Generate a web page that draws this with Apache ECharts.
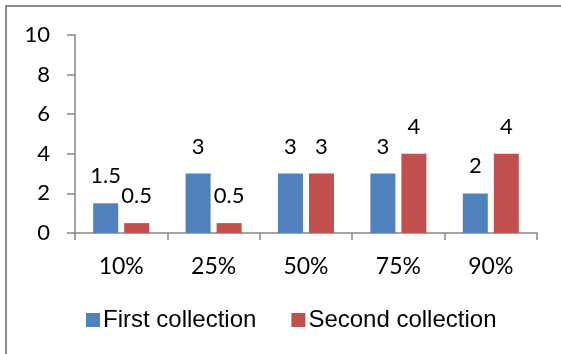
<!DOCTYPE html>
<html>
<head>
<meta charset="utf-8">
<script src="https://cdn.jsdelivr.net/npm/echarts@6/dist/echarts.min.js"></script>
<style>
  html, body { margin: 0; padding: 0; background: #fff; }
  #chart { width: 561px; height: 354px; }
</style>
</head>
<body>
<div id="chart"></div>
<script>
// Percentile groups on the x axis
const categories = ['10%', '25%', '50%', '75%', '90%'];
// Counts per collection
const firstCollection = [1.5, 3, 3, 3, 2];
const secondCollection = [0.5, 0.5, 3, 4, 4];
// Y axis range
const yMin = 0;
const yMax = 10;
const yStep = 2;

const numFont = 'Lato, "Open Sans", sans-serif';
const axisGrey = '#868686';

const chart = echarts.init(document.getElementById('chart'), null, { renderer: 'canvas' });

const valueLabel = {
  show: true,
  position: 'top',
  distance: 16,
  color: '#000',
  fontFamily: numFont,
  fontSize: 22
};

chart.setOption({
  animation: false,
  backgroundColor: '#fff',
  graphic: [{
    type: 'rect',
    shape: { x: 6, y: 6, width: 620, height: 420 },
    style: { fill: 'none', stroke: '#8a8a8a', lineWidth: 2 },
    silent: true
  }],
  grid: { left: 75, right: 24, top: 35, bottom: 121, containLabel: false },
  legend: {
    left: 86,
    top: 308,
    padding: 0,
    itemWidth: 14,
    itemHeight: 14,
    itemGap: 35,
    icon: 'rect',
    textStyle: {
      fontFamily: '"Liberation Sans", Arial, sans-serif',
      fontSize: 24,
      color: '#000',
      padding: [0, 0, 0, -2]
    },
    data: ['First collection', 'Second collection']
  },
  xAxis: {
    type: 'category',
    data: categories,
    axisLine: { lineStyle: { color: axisGrey, width: 1.5 } },
    axisTick: { show: true, length: 7, lineStyle: { color: axisGrey, width: 1.5 } },
    axisLabel: { color: '#000', fontFamily: numFont, fontSize: 23, margin: 22 }
  },
  yAxis: {
    type: 'value',
    min: yMin,
    max: yMax,
    interval: yStep,
    splitLine: { show: false },
    axisLine: { show: true, lineStyle: { color: axisGrey, width: 1.5 } },
    axisTick: { show: true, length: 8, lineStyle: { color: axisGrey, width: 1.5 } },
    axisLabel: { color: '#000', fontFamily: numFont, fontSize: 22, margin: 25 }
  },
  series: [
    {
      name: 'First collection',
      type: 'bar',
      data: firstCollection,
      barWidth: 25,
      barGap: '24%',
      itemStyle: { color: '#4F81BD' },
      label: valueLabel
    },
    {
      name: 'Second collection',
      type: 'bar',
      data: secondCollection,
      barWidth: 25,
      itemStyle: { color: '#C0504D' },
      label: valueLabel
    }
  ]
});
</script>
</body>
</html>
